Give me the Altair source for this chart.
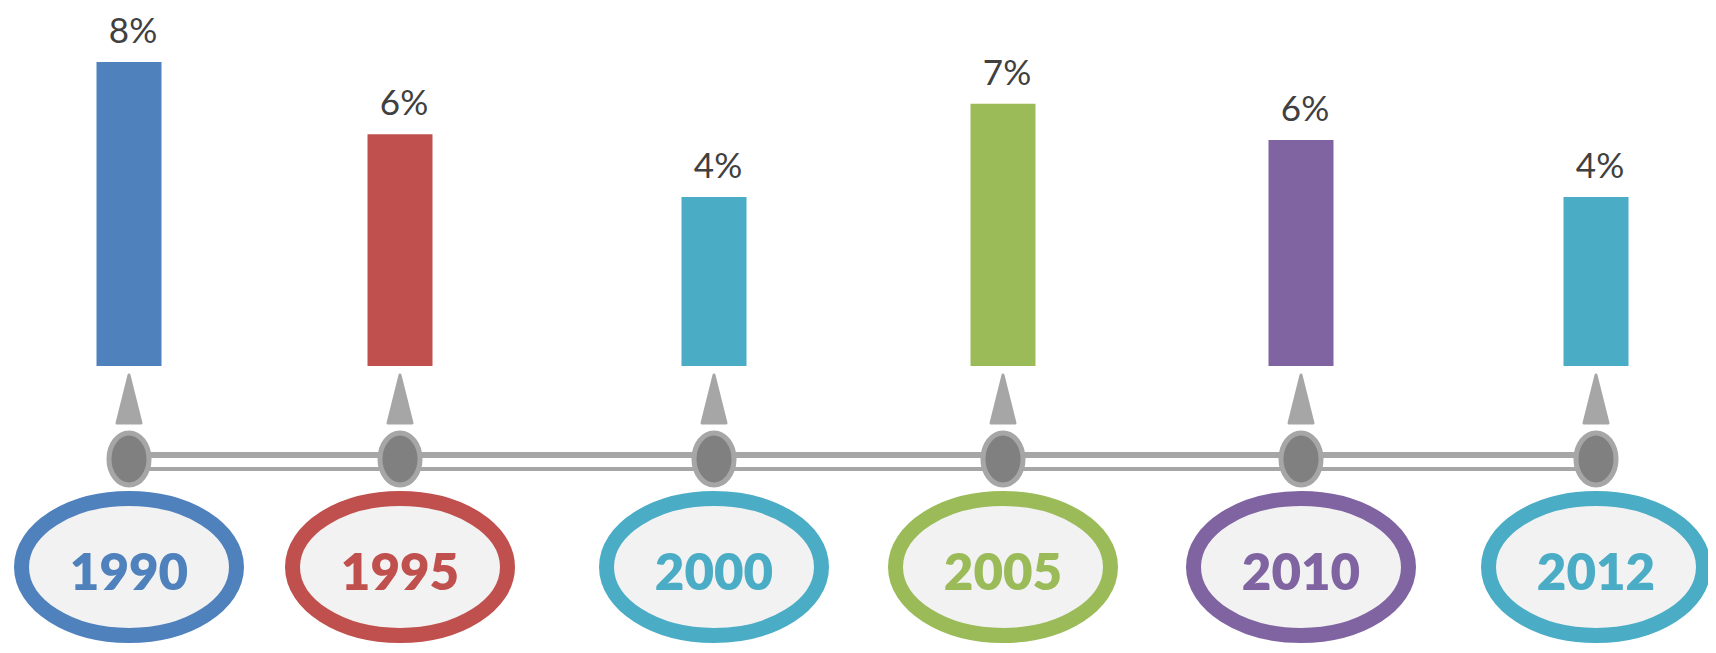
import altair as alt
import pandas as pd

# ---- data ----
years = [1990, 1995, 2000, 2005, 2010, 2012]
values = [8.0, 6.1, 4.45, 6.9, 5.95, 4.45]
labels = ["8%", "6%", "4%", "7%", "6%", "4%"]
colors = ["#4f81bd", "#c0504d", "#4bacc6", "#9bbb59", "#8064a2", "#4bacc6"]

df = pd.DataFrame({"year": years, "value": values, "label": labels})

# ---- layout / style ----
W, H = 1700, 637
x_range = [121, 392, 706, 995, 1293, 1588]


def ellipse_path(a, b):
    k = 0.5523
    f = lambda v: f"{v:.4f}"
    return (
        f"M {f(-a)} 0 C {f(-a)} {f(-k*b)} {f(-k*a)} {f(-b)} 0 {f(-b)} "
        f"C {f(k*a)} {f(-b)} {f(a)} {f(-k*b)} {f(a)} 0 "
        f"C {f(a)} {f(k*b)} {f(k*a)} {f(b)} 0 {f(b)} "
        f"C {f(-k*a)} {f(b)} {f(-a)} {f(k*b)} {f(-a)} 0 Z"
    )


xscale = alt.Scale(domain=years, range=x_range, nice=False, zero=False, padding=0)
yscale = alt.Scale(domain=[-7.342, 9.421], nice=False, zero=False, padding=0)
cscale = alt.Scale(domain=years, range=colors)

X = alt.X("year:Q", scale=xscale, axis=None)
base = alt.Chart(df)

line_top = base.mark_rule(color="#a6a6a6", strokeWidth=6).encode(
    x=alt.X("min(year):Q", scale=xscale, axis=None),
    x2=alt.X2("max(year):Q"),
    y=alt.value(447),
)
line_bottom = base.mark_rule(color="#a6a6a6", strokeWidth=4).encode(
    x=alt.X("min(year):Q", scale=xscale, axis=None),
    x2=alt.X2("max(year):Q"),
    y=alt.value(461),
)

triangles = base.mark_point(
    shape="M 0 -1 L 0.5 1 L -0.5 1 Z",
    size=2304,
    filled=True,
    fill="#a6a6a6",
    stroke="#a6a6a6",
    strokeWidth=3,
    strokeJoin="round",
    opacity=1,
).encode(x=X, y=alt.value(391))

nodes = base.mark_point(
    shape=ellipse_path(0.77, 1.0),
    size=2704,
    filled=True,
    fill="#808080",
    stroke="#a6a6a6",
    strokeWidth=5,
    opacity=1,
).encode(x=X, y=alt.value(451))

bars = base.mark_bar(width=65).encode(
    x=X,
    y=alt.Y("value:Q", scale=yscale, axis=None),
    y2=alt.datum(0),
    color=alt.Color("year:N", scale=cscale, legend=None),
)

pct = base.mark_text(
    font="Lato", fontSize=35, color="#404040", baseline="alphabetic", dy=-19, dx=4
).encode(x=X, y=alt.Y("value:Q", scale=yscale, axis=None), text="label:N")

rings = base.mark_point(
    shape=ellipse_path(1.0, 0.637),
    size=46225,
    filled=True,
    fill="#f2f2f2",
    strokeWidth=15,
    opacity=1,
    fillOpacity=1,
).encode(
    x=X,
    y=alt.value(559),
    stroke=alt.Stroke("year:N", scale=cscale, legend=None),
)

year_text = base.mark_text(
    font="Lato", fontWeight=800, fontSize=51, baseline="alphabetic"
).encode(
    x=X,
    y=alt.value(582),
    text=alt.Text("year:N"),
    color=alt.Color("year:N", scale=cscale, legend=None),
)

chart = (
    alt.layer(line_top, line_bottom, triangles, nodes, bars, pct, rings, year_text)
    .properties(width=W, height=H, padding=0, autosize=alt.AutoSizeParams(type="none"))
    .configure_view(stroke=None)
)

chart.save("out.html", embed_options={"renderer": "svg", "actions": False})
